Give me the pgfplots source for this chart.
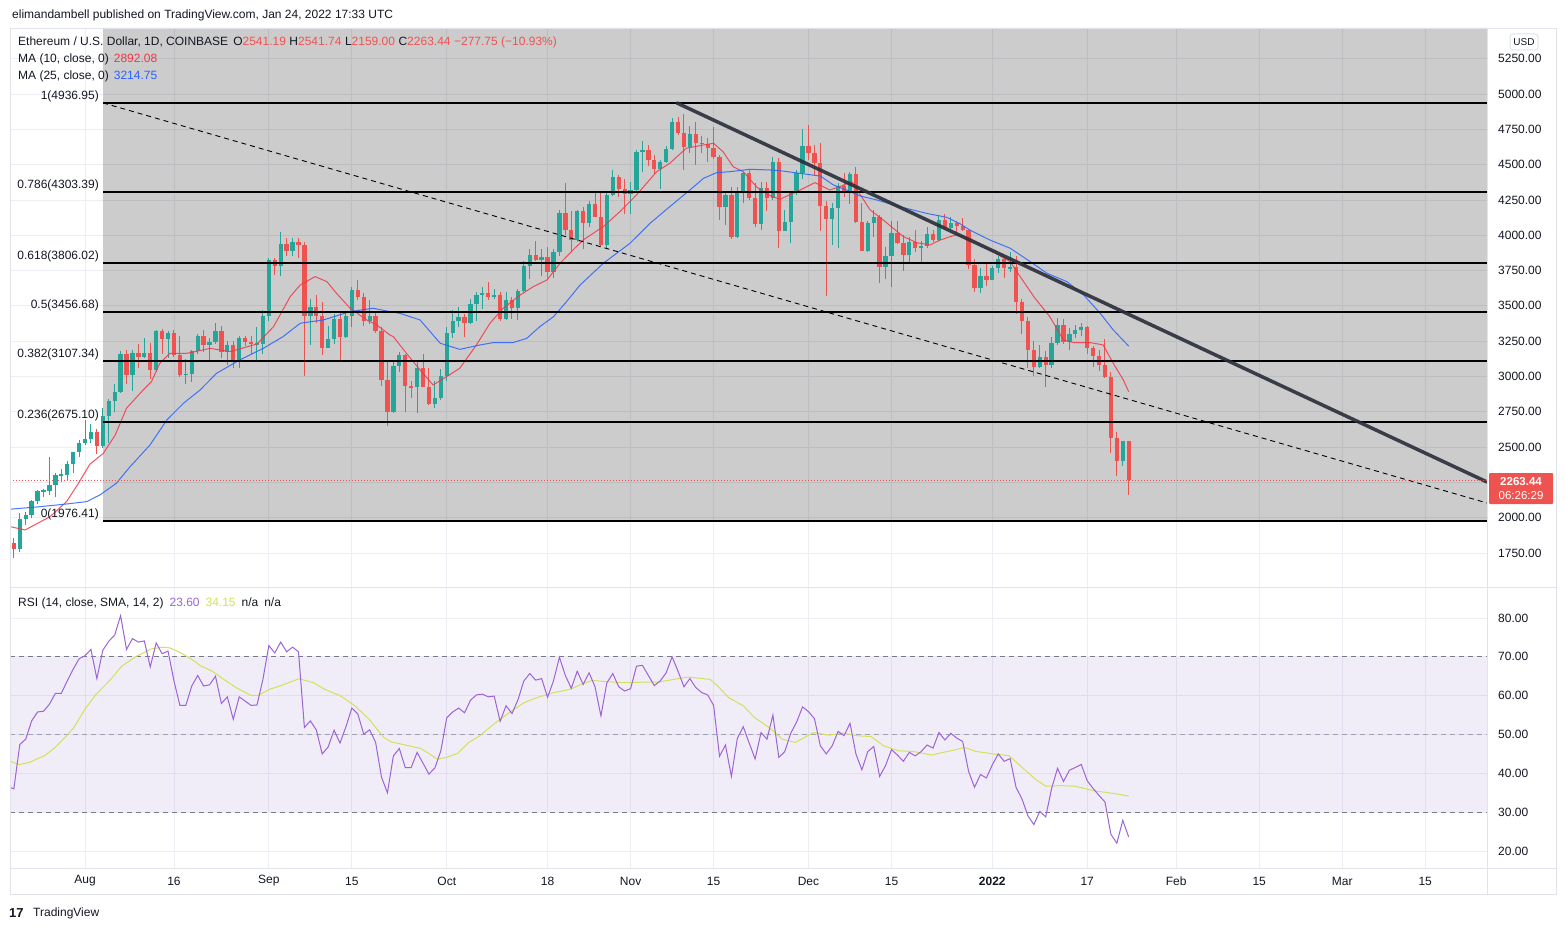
\documentclass[border=0pt]{standalone}
\usepackage{pgfplots}
\pgfplotsset{compat=1.18}
\usepackage{pgfplotstable}
\usepackage{fontspec}
\setmainfont{Liberation Sans}
\definecolor{up}{HTML}{26A69A}
\definecolor{dn}{HTML}{EF5350}
\definecolor{maA}{HTML}{F23645}
\definecolor{maB}{HTML}{2962FF}
\definecolor{rsic}{HTML}{9C64D4}
\definecolor{bandc}{HTML}{7E57C2}
\definecolor{rsimac}{HTML}{D4E157}
\definecolor{txt}{HTML}{131722}
\definecolor{gridc}{HTML}{ECEEF3}
\definecolor{brd}{HTML}{E0E3EB}
\definecolor{trend}{HTML}{2A2E39}
\definecolor{dashc}{HTML}{787B86}

\pgfplotstableread{
d O H L C
-13 1895 1925 1805 1821
-12 1821 1856 1713 1775
-11 1775 2031 1755 1992
-10 1992 2043 1950 2020
-9 2020 2128 2000 2120
-8 2120 2196 2100 2186
-7 2186 2200 2150 2192
-6 2192 2432 2160 2228
-5 2228 2318 2150 2300
-4 2300 2345 2255 2305
-3 2305 2398 2270 2383
-2 2383 2468 2315 2462
-1 2462 2550 2430 2532
0 2532 2695 2515 2555
1 2555 2665 2530 2608
2 2608 2625 2450 2507
3 2507 2780 2490 2722
4 2722 2840 2530 2825
5 2825 2950 2750 2888
6 2888 3180 2880 3160
7 3160 3185 2950 3012
8 3012 3190 2900 3165
9 3165 3230 3060 3140
10 3140 3275 3130 3165
11 3165 3235 2985 3045
12 3045 3330 3030 3320
13 3320 3335 3160 3265
14 3265 3320 3130 3310
15 3310 3330 3140 3150
16 3150 3290 2995 3012
17 3012 3125 2950 3020
18 3020 3185 2960 3183
19 3183 3300 3160 3287
20 3287 3330 3175 3225
21 3225 3270 3120 3241
22 3241 3375 3230 3320
23 3320 3360 3130 3170
24 3170 3250 3080 3225
25 3225 3250 3060 3100
26 3100 3285 3060 3270
27 3270 3290 3215 3245
28 3245 3285 3160 3228
29 3228 3350 3120 3232
30 3232 3470 3160 3430
31 3430 3840 3390 3825
32 3825 3840 3720 3785
33 3785 4022 3710 3935
34 3935 3980 3850 3885
35 3885 3980 3850 3950
36 3950 3980 3840 3928
37 3928 3950 3006 3430
38 3430 3550 3220 3495
39 3495 3580 3380 3425
40 3425 3530 3150 3205
41 3205 3360 3200 3262
42 3262 3440 3230 3405
43 3405 3460 3105 3280
44 3280 3450 3270 3430
45 3430 3630 3350 3612
46 3612 3680 3540 3565
47 3565 3590 3360 3395
48 3395 3540 3370 3430
49 3430 3460 3310 3325
50 3325 3350 2935 2975
51 2975 3100 2650 2750
52 2750 3110 2740 3075
53 3075 3170 3030 3150
54 3150 3160 2750 2930
55 2930 2970 2850 2922
56 2922 3115 2740 3060
57 3060 3160 2930 2925
58 2925 3060 2795 2805
59 2805 2970 2780 2845
60 2845 3050 2835 3000
61 3000 3350 2970 3305
62 3305 3470 3270 3390
63 3390 3490 3350 3418
64 3418 3440 3280 3382
65 3382 3550 3370 3515
66 3515 3600 3390 3578
67 3578 3635 3480 3590
68 3590 3670 3540 3560
69 3560 3620 3550 3574
70 3574 3600 3390 3410
71 3410 3600 3400 3540
72 3540 3560 3410 3485
73 3485 3620 3400 3602
74 3602 3820 3600 3785
75 3785 3900 3690 3862
76 3862 3960 3820 3825
77 3825 3900 3710 3845
78 3845 3920 3700 3740
79 3740 3900 3700 3880
80 3880 4180 3850 4158
81 4158 4372 4000 4040
82 4040 4170 3890 3965
83 3965 4180 3950 4170
84 4170 4200 3900 4085
85 4085 4240 4060 4220
86 4220 4300 4130 4130
87 4130 4300 3925 3930
88 3930 4300 3900 4285
89 4285 4460 4280 4415
90 4415 4425 4270 4325
91 4325 4400 4150 4290
92 4290 4380 4150 4320
93 4320 4600 4300 4592
94 4592 4665 4450 4605
95 4605 4640 4490 4530
96 4530 4570 4435 4470
97 4470 4530 4330 4520
98 4520 4630 4510 4610
99 4610 4830 4600 4805
100 4805 4840 4710 4725
101 4725 4860 4460 4625
102 4625 4775 4580 4718
103 4718 4800 4500 4655
104 4655 4700 4580 4648
105 4648 4690 4520 4615
106 4615 4765 4540 4557
107 4557 4570 4110 4200
108 4200 4300 4070 4285
109 4285 4345 3970 3990
110 3990 4340 3980 4300
111 4300 4450 4230 4440
112 4440 4460 4250 4262
113 4262 4370 4060 4078
114 4078 4380 4040 4332
115 4332 4375 4170 4265
116 4265 4555 4250 4520
117 4520 4550 3912 4032
118 4032 4180 4030 4096
119 4096 4310 3947 4297
120 4297 4460 4285 4440
121 4440 4752 4400 4632
122 4632 4780 4530 4582
123 4582 4640 4420 4510
124 4510 4650 4030 4205
125 4205 4240 3572 4113
126 4113 4230 3930 4196
127 4196 4370 3912 4349
128 4349 4440 4270 4302
129 4302 4450 4220 4432
130 4432 4480 4090 4096
131 4096 4230 3890 3890
132 3890 4100 3880 4085
133 4085 4180 3990 4131
134 4131 4140 3660 3773
135 3773 3920 3690 3855
136 3855 4100 3636 4018
137 4018 4100 3940 3947
138 3947 4000 3750 3860
139 3860 3990 3800 3950
140 3950 4040 3880 3912
141 3912 3960 3810 3925
142 3925 4060 3910 4006
143 4006 4040 3950 3966
144 3966 4140 3960 4108
145 4108 4150 4040 4050
146 4050 4130 4040 4090
147 4090 4100 4000 4065
148 4065 4120 4030 4035
149 4035 4040 3760 3790
150 3790 3830 3600 3625
151 3625 3770 3590 3710
152 3710 3810 3640 3680
153 3680 3780 3680 3765
154 3765 3855 3730 3830
155 3830 3840 3700 3765
156 3765 3880 3740 3777
157 3777 3850 3440 3530
158 3530 3550 3300 3395
159 3395 3420 3060 3188
160 3188 3250 3000 3070
161 3070 3220 3060 3140
162 3140 3180 2928 3080
163 3080 3280 3060 3235
164 3235 3415 3220 3365
165 3365 3405 3230 3245
166 3245 3345 3190 3299
167 3299 3365 3275 3330
168 3330 3375 3285 3350
169 3350 3355 3160 3200
170 3200 3215 3070 3145
171 3145 3185 3040 3080
172 3080 3263 2990 2998
173 2998 3030 2460 2562
174 2562 2610 2296 2404
175 2404 2545 2369 2541
176 2541.19 2541.74 2159.00 2263.44
}\ohlc

\pgfplotstableread{
d p
-12.65 1937
-10.1 1913
-5.9 2007
-3.1 2114
-1.1 2244
0.84 2380
3.1 2456
5.1 2586
7.0 2775
9.8 2904
11.2 2963
12.6 3093
14.3 3164
17.1 3164
17.7 3168
21.1 3199
24.5 3176
29.0 3230
31.8 3353
34.6 3565
36.3 3648
38.8 3707
40.8 3671
42.4 3589
44.7 3483
47.5 3400
49.2 3365
51.4 3294
52.0 3282
54.2 3164
56.5 3046
58.7 2940
61.0 2999
63.2 3058
66.0 3223
68.3 3377
70.5 3483
73.4 3577
75.6 3636
77.9 3683
80.1 3801
82.4 3900
84.0 3966
87.4 4061
90.2 4167
93.0 4285
96.4 4450
98.6 4509
101.4 4616
104.3 4639
106.0 4651
107.6 4591
109.3 4485
111.0 4450
113.3 4340
115.5 4280
117.2 4255
120.6 4320
123.1 4372
125.6 4320
127.6 4349
129.3 4380
130.4 4308
132.4 4179
134.6 4108
136.3 4049
138.0 3990
140.3 3947
142.5 3931
144.2 3966
145.9 3990
147.0 4002
149.2 3978
152.6 3895
156.0 3813
157.7 3707
160.0 3565
162.7 3423
165.0 3258
166.7 3240
169.5 3240
171.7 3223
173.4 3093
175.1 2975
176.0 2892
}\maten

\pgfplotstableread{
d p
-12.65 2060
-7.6 2078
-3.1 2097
0.3 2114
2.5 2161
5.3 2244
7.6 2361
10.96 2515
13.8 2692
16.6 2810
19.4 2904
22.2 3023
26.1 3117
30.1 3200
33.4 3282
36.3 3377
40.2 3400
44.7 3459
48.6 3483
51.4 3459
53.1 3447
56.5 3400
59.9 3235
63.2 3192
66.6 3223
68.9 3240
72.2 3240
74.5 3270
76.7 3353
79.0 3423
81.2 3530
83.5 3648
87.4 3801
91.9 3943
95.3 4085
98.6 4202
102.0 4320
104.3 4403
106.5 4443
108.8 4450
112.1 4467
115.5 4462
117.2 4457
120.6 4438
124.0 4419
126.2 4356
128.4 4320
130.7 4278
133.5 4250
137.4 4202
141.9 4155
145.3 4127
147.6 4080
149.2 4037
152.6 3966
156.0 3908
159.4 3813
162.2 3731
165.6 3671
168.4 3577
171.2 3447
173.4 3329
176.0 3214.75
}\matwentyfive

\pgfplotstableread{
d r
-13 36.6
-12 36.0
-11 47.4
-10 48.8
-9 53.5
-8 55.8
-7 56.0
-6 57.8
-5 60.6
-4 60.6
-3 63.8
-2 66.8
-1 69.5
0 70.3
1 71.9
2 64.4
3 71.7
4 74.0
5 75.6
6 80.6
7 71.9
8 74.7
9 73.8
10 74.1
11 67.4
12 73.6
13 70.8
14 71.5
15 63.8
16 57.5
17 57.5
18 62.5
19 65.2
20 62.5
21 62.8
22 65.0
23 58.0
24 59.7
25 53.9
26 59.7
27 58.6
28 57.5
29 57.6
30 64.2
31 72.9
32 71.0
33 73.8
34 71.3
35 72.5
36 71.3
37 51.8
38 53.5
39 51.2
40 45.0
41 46.8
42 51.1
43 47.8
44 52.0
45 56.8
46 55.3
47 50.1
48 51.2
49 48.0
50 39.0
51 35.0
52 44.5
53 46.4
54 41.5
55 41.5
56 45.4
57 42.6
58 39.8
59 41.4
60 45.8
61 54.3
62 55.8
63 56.8
64 55.6
65 58.8
66 60.2
67 60.4
68 59.7
69 59.9
70 53.4
71 57.4
72 55.4
73 58.9
74 63.8
75 65.7
76 64.0
77 64.4
78 59.6
79 63.8
80 69.9
81 65.2
82 61.9
83 66.3
84 62.9
85 65.9
86 62.3
87 54.8
88 63.3
89 65.7
90 62.3
91 61.2
92 61.8
93 67.6
94 67.8
95 65.2
96 62.6
97 63.8
98 65.9
99 70.0
100 66.3
101 62.3
102 64.4
103 62.1
104 60.8
105 60.2
106 57.5
107 44.4
108 47.3
109 39.2
110 49.0
111 52.0
112 47.8
113 43.7
114 50.5
115 48.8
116 55.0
117 44.1
118 45.6
119 50.3
120 53.2
121 57.1
122 55.9
123 54.1
124 47.1
125 45.0
126 47.1
127 50.8
128 49.7
129 52.9
130 45.0
131 40.9
132 45.6
133 46.9
134 39.2
135 42.0
136 46.1
137 44.7
138 43.1
139 45.4
140 44.5
141 45.6
142 47.3
143 46.5
144 50.5
145 48.6
146 50.3
147 49.1
148 48.2
149 40.5
150 36.4
151 39.7
152 38.8
153 42.2
154 45.0
155 43.1
156 43.8
157 36.4
158 33.4
159 29.1
160 26.8
161 30.2
162 28.8
163 36.1
164 41.3
165 37.9
166 40.8
167 41.5
168 42.3
169 38.1
170 36.1
171 34.3
172 32.6
173 24.3
174 22.0
175 27.9
176 23.6
}\rsidata

\pgfplotstableread{
d r
-12.77 43.25
-11.22 42.22
-9.35 42.82
-6.86 44.53
-5.0 46.67
-3.13 49.66
-1.88 51.79
-0.02 56.5
1.85 60.34
4.34 64.19
6.2 67.6
8.69 70.17
11.18 72.05
13.05 72.48
14.29 72.31
16.16 71.03
18.03 69.32
19.58 67.6
21.45 66.32
23.01 64.61
25.5 62.05
27.98 60.08
29.23 60.08
31.1 61.62
33.59 62.91
36.07 64.36
38.56 63.33
40.43 61.62
42.92 60.08
45.41 57.52
47.9 53.93
50.39 49.23
51.63 48.12
54.12 47.26
56.61 46.41
57.85 45.21
59.41 43.67
60.97 44.1
62.83 45.13
64.7 47.95
66.57 49.66
69.05 52.82
71.54 55.64
74.03 58.2
76.52 59.66
79.01 60.77
81.79 61.62
83.66 62.91
85.52 63.93
88.0 63.59
91.12 63.33
94.24 63.5
96.72 63.5
99.21 64.19
101.7 64.79
105.44 64.19
106.68 62.48
108.55 59.49
111.04 57.35
112.9 54.36
115.39 51.79
117.57 48.8
119.75 47.95
121.0 48.97
122.86 50.51
125.35 49.83
127.84 50.34
130.33 49.66
132.51 49.49
134.68 47.09
137.17 45.81
139.66 45.64
142.77 44.7
144.64 45.38
146.51 45.98
148.37 46.67
150.24 45.64
153.35 44.96
155.84 44.53
157.71 41.97
160.2 38.55
162.06 36.67
164.55 36.84
167.04 36.67
168.91 35.98
170.15 35.47
172.02 35.13
173.89 34.7
176.0 34.15
}\rsimadata

\pgfplotsset{
  tvaxis/.style={
    scale only axis, width=1477pt,
    xmin=-12.65, xmax=236.42,
    axis line style={draw=none},
    major tick length=0pt,
    xtick={0,15,31,45,61,78,92,106,122,136,153,169,184,198,212,226},
    grid=major,
    major grid style={draw=gridc, line width=0.8pt},
    yticklabel pos=right,
    yticklabel style={anchor=west, inner sep=0pt, xshift=11pt, text=txt},
    yticklabel={\pgfmathprintnumber[fixed,fixed zerofill,precision=2,1000 sep={},assume math mode=true]{\tick}},
    tick label style={font=\fontsize{12}{14}\selectfont},
    clip=true,
  },
  wick/.style={draw=none, mark=none, forget plot, unbounded coords=discard,
    error bars/.cd, y dir=both, y explicit, error mark=none,
    error bar style={draw=#1, line width=1pt}},
  body/.style={draw=none, mark=none, forget plot, unbounded coords=discard,
    error bars/.cd, y dir=both, y explicit, error mark=none,
    error bar style={draw=#1, line width=4.3pt}},
}

\begin{document}
\begin{tikzpicture}[font=\fontsize{12}{14}\selectfont, text=txt]
\begin{scope}[x=1pt,y=-1pt]
\useasboundingbox (0,0) rectangle (1566,931);
\fill[white] (0,0) rectangle (1566,931);
\end{scope}

% ---------------- price pane ----------------
\begin{axis}[tvaxis, at={(10pt,-28pt)}, anchor=north west, height=559pt,
  ymin=1509.2, ymax=5467.3, ytick={1750,2000,...,5250},
  xmajorticks=false]
% grey fib background
\addplot[draw=none, fill=black, fill opacity=0.2] coordinates
  {(3.04,1976.41) (236.42,1976.41) (236.42,5467.3) (3.04,5467.3) (3.04,1976.41)};
% candles
\addplot[wick=up] table[x=d, y expr={\thisrow{C}>=\thisrow{O} ? (\thisrow{H}+\thisrow{L})/2 : nan}, y error expr={(\thisrow{H}-\thisrow{L})/2}] {\ohlc};
\addplot[wick=dn] table[x=d, y expr={\thisrow{C}<\thisrow{O} ? (\thisrow{H}+\thisrow{L})/2 : nan}, y error expr={(\thisrow{H}-\thisrow{L})/2}] {\ohlc};
\addplot[body=up] table[x=d, y expr={\thisrow{C}>=\thisrow{O} ? (\thisrow{O}+\thisrow{C})/2 : nan}, y error expr={max(abs(\thisrow{C}-\thisrow{O})/2,4)}] {\ohlc};
\addplot[body=dn] table[x=d, y expr={\thisrow{C}<\thisrow{O} ? (\thisrow{O}+\thisrow{C})/2 : nan}, y error expr={max(abs(\thisrow{C}-\thisrow{O})/2,4)}] {\ohlc};
% moving averages
\addplot[maA, line width=1pt, opacity=0.85] table[x=d, y=p] {\maten};
\addplot[maB, line width=1pt, opacity=0.85] table[x=d, y=p] {\matwentyfive};
% fib levels
\addplot[black, line width=2pt] coordinates {(3.04,4936.95) (236.42,4936.95)};
\addplot[black, line width=2pt] coordinates {(3.04,4303.39) (236.42,4303.39)};
\addplot[black, line width=2pt] coordinates {(3.04,3806.02) (236.42,3806.02)};
\addplot[black, line width=2pt] coordinates {(3.04,3456.68) (236.42,3456.68)};
\addplot[black, line width=2pt] coordinates {(3.04,3107.34) (236.42,3107.34)};
\addplot[black, line width=2pt] coordinates {(3.04,2675.10) (236.42,2675.10)};
\addplot[black, line width=2pt] coordinates {(3.04,1976.41) (236.42,1976.41)};
% trend lines
\addplot[black, line width=0.9pt, dash pattern=on 5pt off 4pt] coordinates {(3.04,4936.95) (236.42,2104)};
\addplot[trend, line width=3.5pt, opacity=0.9, line cap=round] coordinates {(99.83,4936.3) (236.42,2252.7)};
% last price
\addplot[dn, line width=0.8pt, dash pattern=on 1pt off 2pt] coordinates {(-12.65,2263.44) (236.42,2263.44)};
% fib labels
\begin{scope}[every node/.style={anchor=base east, inner sep=0pt, font=\fontsize{12}{14}\selectfont, text=txt}]
\node at (axis cs:2.36,4936.95) [yshift=3.5pt] {1(4936.95)};
\node at (axis cs:2.36,4303.39) [yshift=3.5pt] {0.786(4303.39)};
\node at (axis cs:2.36,3806.02) [yshift=3.5pt] {0.618(3806.02)};
\node at (axis cs:2.36,3456.68) [yshift=3.5pt] {0.5(3456.68)};
\node at (axis cs:2.36,3107.34) [yshift=3.5pt] {0.382(3107.34)};
\node at (axis cs:2.36,2675.10) [yshift=3.5pt] {0.236(2675.10)};
\node at (axis cs:2.36,1976.41) [yshift=3.5pt] {0(1976.41)};
\end{scope}
\end{axis}

% ---------------- RSI pane ----------------
\begin{axis}[tvaxis, at={(10pt,-588pt)}, anchor=north west, height=280pt,
  ymin=15.62, ymax=87.73, ytick={20,30,...,80},
  xticklabels={Aug,16,Sep,15,Oct,18,Nov,15,Dec,15,\textbf{2022},17,Feb,15,Mar,15},
  xticklabel style={anchor=center, yshift=-13pt, inner sep=0pt, text=txt}]
\addplot[draw=none, fill=bandc, fill opacity=0.1] coordinates
  {(-12.65,30) (236.42,30) (236.42,70) (-12.65,70) (-12.65,30)};
\addplot[dashc, line width=1pt, dash pattern=on 5pt off 4pt] coordinates {(-12.65,70) (236.42,70)};
\addplot[dashc, line width=0.8pt, dash pattern=on 5pt off 4pt, opacity=0.6] coordinates {(-12.65,50) (236.42,50)};
\addplot[dashc, line width=1pt, dash pattern=on 5pt off 4pt] coordinates {(-12.65,30) (236.42,30)};
\addplot[rsimac, line width=1pt] table[x=d, y=r] {\rsimadata};
\addplot[rsic, line width=1pt] table[x=d, y=r] {\rsidata};
\end{axis}

% ---------------- frame and texts ----------------
\begin{scope}[x=1pt,y=-1pt]
\draw[brd, line width=1pt] (10.5,28.5) rectangle (1556.5,894.5);
\draw[brd, line width=1.5pt] (10,587.5) -- (1557,587.5);
\draw[brd, line width=1pt] (1487.5,28) -- (1487.5,895);
\draw[brd, line width=1pt] (10,868.5) -- (1557,868.5);

\node[anchor=west, inner sep=0pt] at (12,15) {elimandambell published on TradingView.com, Jan 24, 2022 17:33 UTC};
\node[anchor=west, inner sep=0pt] at (18,42) {Ethereum / U.S. Dollar, 1D, COINBASE\hspace{5pt}O\textcolor{dn}{2541.19}\hspace{3.5pt}H\textcolor{dn}{2541.74}\hspace{3.5pt}L\textcolor{dn}{2159.00}\hspace{3.5pt}C\textcolor{dn}{2263.44}\hspace{3.5pt}\textcolor{dn}{−277.75 (−10.93\%)}};
\node[anchor=west, inner sep=0pt] at (18,59) {MA (10, close, 0)\hspace{5pt}\textcolor{maA}{2892.08}};
\node[anchor=west, inner sep=0pt] at (18,76) {MA (25, close, 0)\hspace{5pt}\textcolor{maB}{3214.75}};
\node[anchor=west, inner sep=0pt] at (18,603) {RSI (14, close, SMA, 14, 2)\hspace{6pt}\textcolor{rsic}{23.60}\hspace{6pt}\textcolor{rsimac}{34.15}\hspace{6pt}n/a\hspace{6pt}n/a};

% USD box
\draw[brd, line width=1pt, rounded corners=3pt, fill=white] (1510,34) rectangle (1538,50);
\node[inner sep=0pt, font=\fontsize{10}{12}\selectfont] at (1524,42) {USD};
% last price box
\fill[dn, rounded corners=1pt] (1489,473) rectangle (1553,504);
\node[inner sep=0pt, text=white, font=\bfseries\fontsize{11.5}{13}\selectfont] at (1521,481.5) {2263.44};
\node[inner sep=0pt, text=white, font=\fontsize{11.5}{13}\selectfont] at (1521,495.5) {06:26:29};

% TradingView logo
\node[anchor=west, inner sep=0pt, font=\bfseries\fontsize{13}{13}\selectfont] at (9,913) {17};
\node[anchor=west, inner sep=0pt, font=\fontsize{12}{14}\selectfont] at (33,913) {TradingView};
\end{scope}
\end{tikzpicture}
\end{document}
